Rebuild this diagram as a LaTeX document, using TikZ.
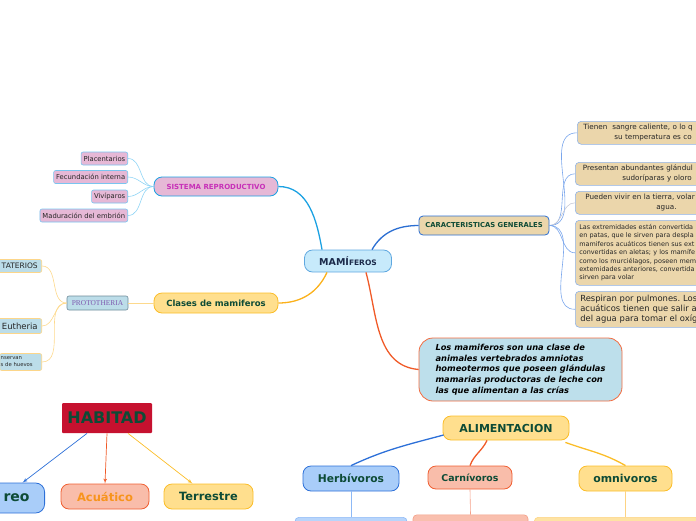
\documentclass[tikz,border=0pt]{standalone}
\usepackage{fontspec}
\setmainfont{DejaVu Sans}
\newfontfamily\protofont{Liberation Serif}
\usetikzlibrary{arrows}
\frenchspacing

\definecolor{mamfill}{HTML}{C7EAFB}
\definecolor{mamline}{HTML}{5FA8E0}
\definecolor{mamtext}{HTML}{1B2A4A}
\definecolor{sisblue}{HTML}{1BA1E2}
\definecolor{pinkfill}{HTML}{E6B8D6}
\definecolor{subblue}{HTML}{79C5F0}
\definecolor{magtext}{HTML}{C730B8}
\definecolor{sublink}{HTML}{8FD4F5}
\definecolor{orfill}{HTML}{FFDF8E}
\definecolor{orline}{HTML}{FBBD28}
\definecolor{orlink}{HTML}{FBB11B}
\definecolor{prolink}{HTML}{FDD98C}
\definecolor{dkgreen}{HTML}{0D4B36}
\definecolor{tanfill}{HTML}{EBD6AB}
\definecolor{carline}{HTML}{2B6ED2}
\definecolor{rboxline}{HTML}{8FB3EA}
\definecolor{rlink}{HTML}{7AA6EC}
\definecolor{rlgray}{HTML}{C9CBD6}
\definecolor{deffill}{HTML}{BDDFEB}
\definecolor{defline}{HTML}{F36B3F}
\definecolor{deflink}{HTML}{F05A28}
\definecolor{protofill}{HTML}{BCDDE9}
\definecolor{protoline}{HTML}{6F8B98}
\definecolor{prototext}{HTML}{7F5AB0}
\definecolor{leftline}{HTML}{FCD68A}
\definecolor{crimson}{HTML}{C6112F}
\definecolor{habline}{HTML}{F59B86}
\definecolor{bluefill}{HTML}{A9CDF9}
\definecolor{blueline}{HTML}{2D70D8}
\definecolor{salfill}{HTML}{F9BDAA}
\definecolor{salline}{HTML}{F05F32}
\definecolor{acutext}{HTML}{F7941D}
\definecolor{herbfill}{HTML}{B8D5FB}
\definecolor{herbline}{HTML}{8DB9F6}
\definecolor{carbfill}{HTML}{F9BFAE}
\definecolor{carbline}{HTML}{F4A088}
\definecolor{ombfill}{HTML}{FEE3A3}
\definecolor{ombline}{HTML}{FDD383}

\begin{document}
\begin{tikzpicture}
		[x=1pt,y=-1pt,every node/.style={inner sep=2pt,line width=0.8pt},
		topic/.style={draw,rounded corners=8pt,font=\bfseries,text=dkgreen},
		repro/.style={draw=subblue,fill=pinkfill,rounded corners=2pt,anchor=east,minimum height=13pt,inner xsep=2.5pt,line width=0.6pt,font=\fontsize{6.8}{8}\selectfont,text=black!85},
		leftbox/.style={draw=leftline,fill=protofill,rounded corners=2pt,anchor=east,text width=40pt,inner xsep=4pt,line width=0.6pt,text=black!85},
		rbox/.style={draw=rboxline,fill=tanfill,rounded corners=4pt,anchor=north west,text width=148pt,inner xsep=6pt,align=left,line width=0.6pt,text=black!85},
		lowbox/.style={rounded corners=4pt,minimum height=20pt,line width=0.6pt},
		link/.style={line width=1.3pt},
		thinlink/.style={line width=0.6pt},
		arrow/.style={->,>=latex',line width=0.7pt}]
		\useasboundingbox (0,0) rectangle (696,520);
		\clip (0,0) rectangle (696,520);

		% centre and first branches
		\node[topic,fill=mamfill,draw=mamline,minimum width=87pt,minimum height=22pt,text=mamtext,font=\fontsize{9.5}{11}\selectfont\bfseries] (mam) at (348,261) {MAMÍ{\fontsize{7.5}{9}\selectfont FEROS}};
		\node[topic,fill=pinkfill,draw=sisblue,minimum width=124pt,minimum height=19pt,text=magtext,font=\fontsize{7}{8}\selectfont\bfseries] (sis) at (216,186.5) {SISTEMA REPRODUCTIVO};
		\node[topic,fill=orfill,draw=orline,minimum width=124pt,minimum height=20pt,font=\fontsize{8.5}{10}\selectfont\bfseries] (cla) at (216,303) {Clases de mamiferos};
		\node[topic,fill=tanfill,draw=carline,rounded corners=4pt,minimum width=130pt,minimum height=19pt,font=\fontsize{6.8}{8}\selectfont\bfseries] (car) at (484,225.5) {CARACTERISTICAS GENERALES};
		\node[draw=defline,fill=deffill,rounded corners=14pt,minimum width=203pt,minimum height=63pt,align=left,font=\fontsize{8.3}{10.7}\selectfont\bfseries\itshape] (def) at (520.5,369.5) {Los mamiferos son una clase de\\animales vertebrados amniotas\\homeotermos que poseen glándulas\\mamarias productoras de leche con\\las que alimentan a las crías};

		% sistema reproductivo
		\node[repro] (pla) at (128,158.5) {Placentarios};
		\node[repro] (fec) at (128,177) {Fecundación interna};
		\node[repro] (viv) at (128,196.5) {Vivíparos};
		\node[repro] (mad) at (128,215.5) {Maduración del embrión};

		% clases
		\node[draw=protoline,fill=protofill,rounded corners=2pt,minimum width=61pt,minimum height=14pt,line width=0.6pt,text=prototext,font=\protofont\fontsize{7.4}{9}\selectfont] (pro) at (97.5,303) {PROTOTHERIA};
		\node[leftbox,align=right,minimum height=13pt,font=\fontsize{7.5}{8}\selectfont] (met) at (42,266) {TATERIOS};
		\node[leftbox,align=right,minimum height=15pt,font=\fontsize{8.5}{10}\selectfont] (eut) at (42,326) {Eutheria};
		\node[leftbox,align=left,inner xsep=1pt,minimum height=17pt,font=\fontsize{5.3}{7}\selectfont] (hue) at (42,362) {nservan\\s de huevos};

		% caracteristicas
		\node[rbox,minimum height=23pt,font=\fontsize{7.2}{10}\selectfont] (c1) at (577,121) {Tienen\ \ sangre caliente, o lo q\\\hspace*{31pt}su temperatura es co};
		\node[rbox,minimum height=23pt,font=\fontsize{7.2}{10}\selectfont] (c2) at (575,162) {\hspace*{1.5pt}Presentan abundantes glándul\\\hspace*{41pt}sudoríparas y oloro};
		\node[rbox,minimum height=23pt,font=\fontsize{7.2}{10}\selectfont] (c3) at (575,191) {\hspace*{4pt}Pueden vivir en la tierra, volar\\\hspace*{75pt}agua.};
		\node[rbox,inner xsep=4pt,minimum height=65pt,font=\fontsize{6.45}{8.4}\selectfont] (c4) at (575,220) {Las extremidades están convertida\\en patas, que le sirven para despla\\mamiferos acuáticos tienen sus ext\\convertidas en aletas; y los mamífe\\como los murciélagos, poseen mem\\extemidades anteriores, convertida\\sirven para volar};
		\node[rbox,inner xsep=5pt,minimum height=36pt,font=\fontsize{8.4}{9.7}\selectfont] (c5) at (575,291) {Respiran por pulmones. Los\\acuáticos tienen que salir a\\del agua para tomar el oxíg};

		% habitad
		\node[fill=crimson,rounded corners=1pt,minimum width=90pt,minimum height=30pt,text=dkgreen,font=\fontsize{16}{18}\selectfont\bfseries] (hab) at (107,418) {HABITAD};
		\node[topic,fill=bluefill,draw=blueline,rounded corners=9pt,anchor=east,text width=40pt,inner xsep=15pt,align=right,minimum height=30pt,font=\fontsize{14}{16}\selectfont\bfseries] (aer) at (45,498) {reo};
		\node[topic,fill=salfill,draw=salline,minimum width=88pt,minimum height=25pt,text=acutext,font=\fontsize{11.5}{13}\selectfont\bfseries] (acu) at (105,496.5) {Acuático};
		\node[topic,fill=orfill,draw=orline,minimum width=89pt,minimum height=25pt,font=\fontsize{11.4}{13}\selectfont\bfseries] (ter) at (208.5,496.5) {Terrestre};

		% alimentacion
		\node[topic,fill=orfill,draw=orline,minimum width=126pt,minimum height=24pt,font=\fontsize{11}{13}\selectfont\bfseries] (ali) at (506,428) {ALIMENTACION};
		\node[topic,fill=bluefill,draw=blueline,minimum width=96pt,minimum height=25pt,font=\fontsize{10.7}{12}\selectfont\bfseries] (her) at (351,478.5) {Herbívoros};
		\node[topic,fill=salfill,draw=salline,minimum width=84pt,minimum height=23pt,font=\fontsize{9.4}{11}\selectfont\bfseries] (carn) at (470,477.5) {Carnívoros};
		\node[topic,fill=orfill,draw=orline,minimum width=93pt,minimum height=25pt,font=\fontsize{10.9}{12}\selectfont\bfseries] (omn) at (625.5,478.5) {omnivoros};
		\node[lowbox,fill=herbfill,draw=herbline,anchor=north,minimum width=112pt] (herb) at (351,517) {};
		\node[lowbox,fill=carbfill,draw=carbline,anchor=north,minimum width=115pt] (carb) at (470.5,514.5) {};
		\node[lowbox,fill=ombfill,draw=ombline,anchor=north west,minimum width=200pt] (omb) at (534,517) {};

		\draw[link,sisblue] ([xshift=-26pt]mam.north) to[out=100,in=0] (sis.east);
		\draw[link,orlink] ([xshift=-21pt]mam.south) to[out=-115,in=0] (cla.east);
		\draw[link,carline] ([xshift=24pt]mam.north) to[out=60,in=180] (car.west);
		\draw[link,deflink] ([xshift=18pt]mam.south) to[out=-75,in=175] (def.west);

		\foreach \to in {pla,fec,viv,mad}
		\draw[thinlink,sublink] (sis.west) to[out=180,in=0] (\to.east);
		\foreach \to in {met,eut,hue}
		\draw[thinlink,prolink] (pro.west) to[out=180,in=0] (\to.east);
		\draw[thinlink,prolink] (pro.east) -- (cla.west);
		\foreach \to/\col in {c1/rlink,c2/rlink,c3/rlgray,c4/rlink,c5/rlink}
		\draw[thinlink,\col] (car.east) to[out=0,in=180] (\to.west);

		\draw[arrow,blueline] ([xshift=-20pt]hab.south) -- ([xshift=13pt]aer.north);
		\draw[arrow,deflink] (hab.south) -- (acu.north);
		\draw[arrow,orline] ([xshift=21pt]hab.south) -- ([xshift=-16pt]ter.north);

		\draw[link,blueline] ([xshift=1pt,yshift=-7pt]ali.west) to[out=195,in=25] (her.north);
		\draw[link,deflink] ([xshift=-19pt]ali.south) to[out=-115,in=70] (carn.north);
		\draw[link,orline] ([xshift=-4pt,yshift=-2pt]ali.south east) to[out=-20,in=150] (omn.north);
		\draw[thinlink,herbline] (her.south) -- (herb.north);
		\draw[thinlink,carbline] (carn.south) -- (carb.north);
		\draw[thinlink,ombline] (omn.south) -- (omb.north -| omn.south);
		\end{tikzpicture}
\end{document}
